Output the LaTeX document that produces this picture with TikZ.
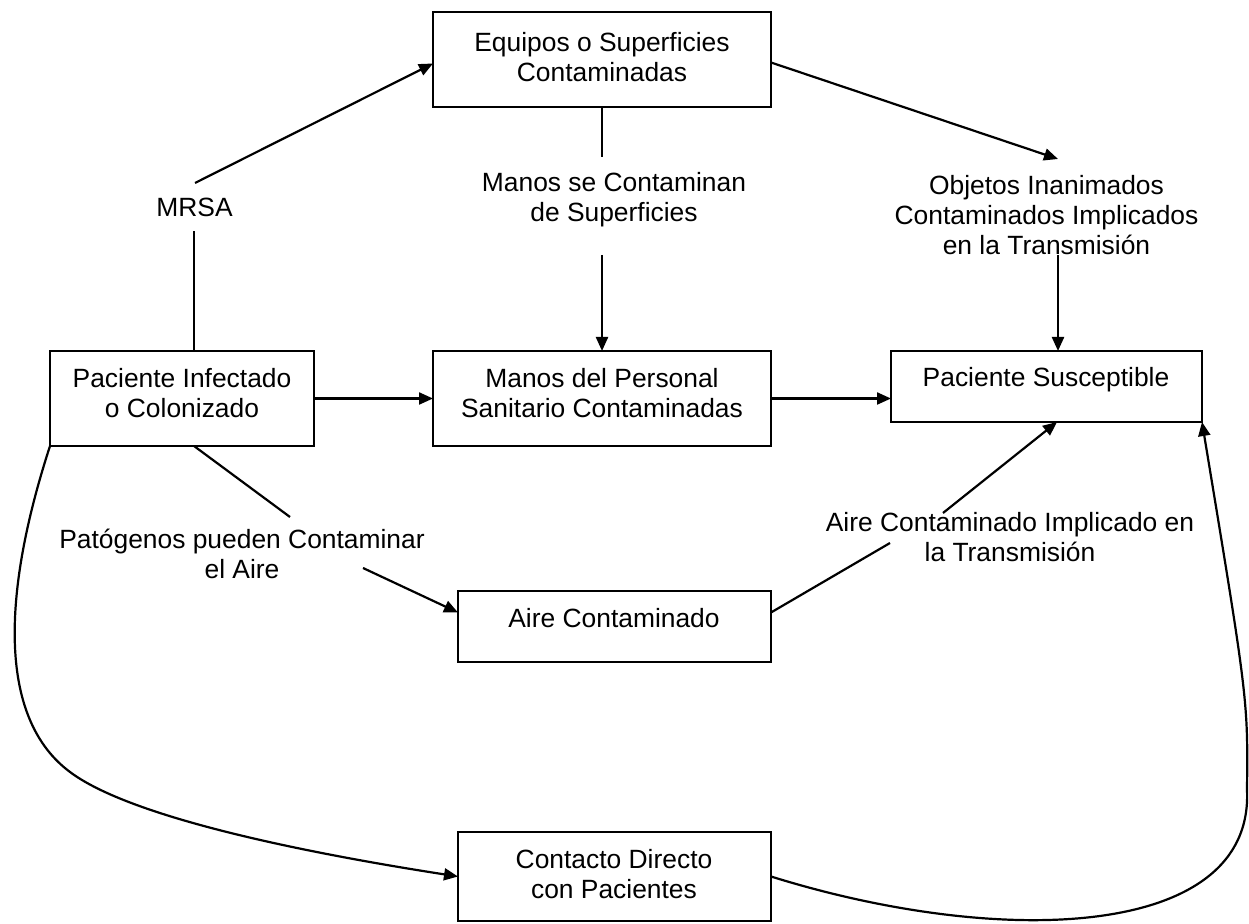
\documentclass[tikz,border=0pt]{standalone}
\usepackage{fontspec}
\setmainfont{Liberation Sans}
\usetikzlibrary{arrows.meta,fit}
\begin{document}
\begin{tikzpicture}[x=0.5pt,y=-0.5pt,
  box/.style={draw,line width=1.1pt,inner sep=0pt,outer sep=0pt},
  txt/.style={anchor=north,inner sep=0pt,align=center,font=\fontsize{13.2}{15}\selectfont},
  conn/.style={line width=1.1pt},
  arr/.style={line width=1.1pt,-{Triangle[length=7pt,width=6pt]}}]
\useasboundingbox[fill=white] (0,0) rectangle (1249,924);
% boxes
\node[box,fit={(433,12) (771,107)}] (eq) {};
\node[box,fit={(50,351) (314,446)}] (pi) {};
\node[box,fit={(433,351) (771,446)}] (mp) {};
\node[box,fit={(891,351) (1202,422)}] (ps) {};
\node[box,fit={(458,591) (771,662)}] (ac) {};
\node[box,fit={(458,832) (771,921)}] (cd) {};
% box texts
\node[txt] (eqt) at (602,32) {Equipos o Superficies\\Contaminadas};
\node[txt] (pit) at (182,368) {Paciente Infectado\\o Colonizado};
\node[txt] (mpt) at (602,368) {Manos del Personal\\Sanitario Contaminadas};
\node[txt] (pst) at (1046,367) {Paciente Susceptible};
\node[txt] (act) at (614,608) {Aire Contaminado};
\node[txt] (cdt) at (614,849) {Contacto Directo\\con Pacientes};
% labels
\node[txt] (mrsa) at (194.5,198) {MRSA};
\node[txt] (manos) at (614,172) {Manos se Contaminan\\de Superficies};
\node[txt] (obj) at (1046.5,175) {Objetos Inanimados\\Contaminados Implicados\\en la Transmisión};
\node[txt] (pat) at (242,529) {Patógenos pueden Contaminar\\el Aire};
\node[txt] (air) at (1010,512) {Aire Contaminado Implicado en\\la Transmisión};
% break points around labels
\coordinate (a1) at (194,231);
\coordinate (a2) at (195,183);
\coordinate (b1) at (602,157);
\coordinate (b2) at (602,255);
\coordinate (c1) at (1058,159);
\coordinate (c2) at (1058,255);
\coordinate (d1) at (290,517);
\coordinate (d2) at (363,568);
\coordinate (e1) at (890,543);
\coordinate (e2) at (943,513);
\coordinate (e3) at (1057,423);
% connectors
\draw[conn] (pi.north -| a1) -- (a1);
\draw[arr] (a2) -- ([yshift=-2pt]eq.west);
\draw[conn] (eq.south) -- (b1);
\draw[arr] (b2) -- (mp.north);
\draw[arr] ([yshift=-1.5pt]eq.east) -- (c1);
\draw[arr] (c2) -- (ps.north -| c2);
\draw[arr] (pi.east) -- (mp.west);
\draw[arr] (mp.east) -- (mp.east -| ps.west);
\draw[conn] (pi.south -| a1) -- (d1);
\draw[arr] (d2) -- ([yshift=7pt]ac.west);
\draw[conn] ([yshift=7pt]ac.east) -- (e1);
\draw[arr] (e2) -- (ps.south -| e3);
\draw[arr] (pi.south west) .. controls (0,600) and (0,720) .. (70,772)
  .. controls (130,817) and (300,852) .. (cd.west);
\draw[arr] (cd.east) .. controls (1000,948) and (1254,940) .. (1247,790)
  .. controls (1248,700) .. (ps.south east);
\end{tikzpicture}
\end{document}
